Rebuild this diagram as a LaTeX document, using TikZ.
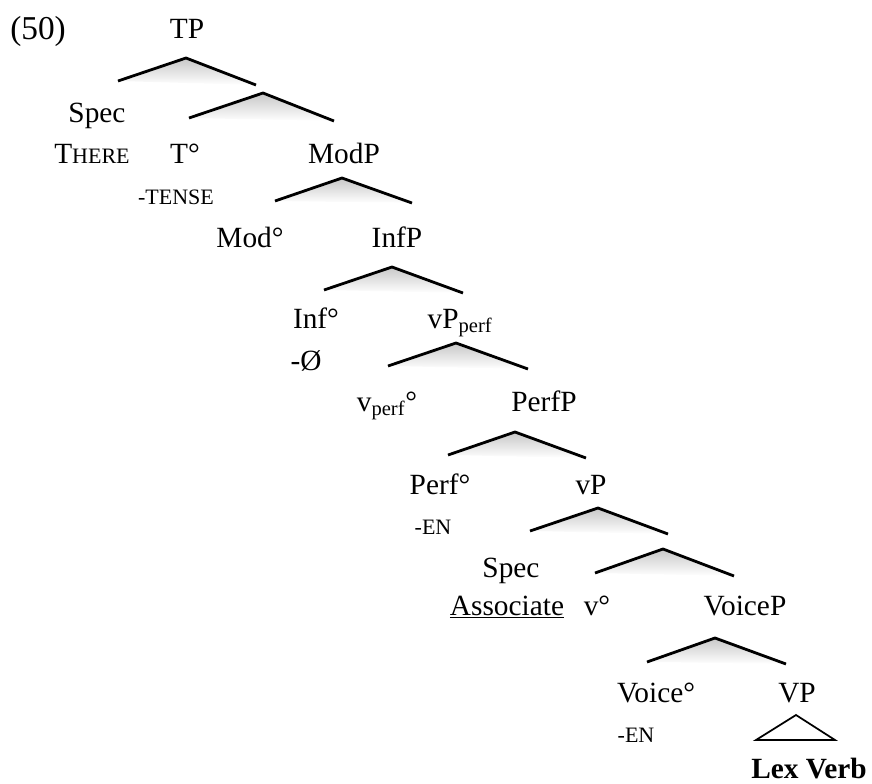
\documentclass[tikz,border=0pt]{standalone}
\usepackage{fontspec}
\setmainfont{Liberation Serif}

\newcommand{\smc}[1]{{\fontsize{16.5}{19}\selectfont #1}}

\begin{document}
\begin{tikzpicture}[
  x=0.75pt, y=-0.75pt,
  lbl/.style={anchor=base, inner sep=0pt, font=\fontsize{22}{26}\selectfont},
  arm/.style={line width=2.1pt},
  undershade/.style={top color=black!22, bottom color=white, draw=none}
]
\useasboundingbox (0,0) rectangle (872,783);

% labels
\node[lbl, anchor=base west, font=\fontsize{25}{30}\selectfont] (ex) at (10,39) {(50)};
\node[lbl] (tp) at (187,38) {TP};
\node[lbl] (spec1) at (97,122) {Spec};
\node[lbl] (there) at (92,163) {T\smc{HERE}};
\node[lbl] (t) at (185,163) {T°};
\node[lbl] (tense) at (176,204) {\smc{-TENSE}};
\node[lbl] (modp) at (344,163) {ModP};
\node[lbl] (mod) at (250,247) {Mod°};
\node[lbl] (infp) at (397,247) {InfP};
\node[lbl] (inf) at (316,328) {Inf°};
\node[lbl] (vpperf) at (460,328) {vP\textsubscript{perf}};
\node[lbl] (null) at (306,370) {-Ø};
\node[lbl] (vperf) at (387,411) {v\textsubscript{perf}°};
\node[lbl] (perfp) at (544,411) {PerfP};
\node[lbl] (perf) at (440,494) {Perf°};
\node[lbl] (vp) at (591,494) {vP};
\node[lbl] (en1) at (433,534) {\smc{-EN}};
\node[lbl] (spec2) at (511,577) {Spec};
\node[lbl] (assoc) at (507,615) {\underline{Associate}};
\node[lbl] (v) at (597,615) {v°};
\node[lbl] (voicep) at (745,615) {VoiceP};
\node[lbl] (voice) at (656,702) {Voice°};
\node[lbl] (bigvp) at (797,702) {VP};
\node[lbl] (en2) at (636,742) {\smc{-EN}};
\node[lbl, font=\fontsize{22}{26}\selectfont\bfseries] (lex) at (809,778) {Lex Verb};

% branch points
\coordinate (tpA) at (186,58);   \coordinate (tpL) at (118,81);  \coordinate (tpR) at (256,85);
\coordinate (tbA) at (263,93);   \coordinate (tbL) at (189,118); \coordinate (tbR) at (334,121);
\coordinate (modA) at (342,178); \coordinate (modL) at (275,201); \coordinate (modR) at (412,203);
\coordinate (infA) at (392,267); \coordinate (infL) at (324,290); \coordinate (infR) at (463,293);
\coordinate (vpfA) at (456,343); \coordinate (vpfL) at (388,366); \coordinate (vpfR) at (528,369);
\coordinate (pfA) at (515,432);  \coordinate (pfL) at (448,455); \coordinate (pfR) at (586,458);
\coordinate (vpA) at (598,508);  \coordinate (vpL) at (530,531); \coordinate (vpR) at (668,534);
\coordinate (vbA) at (663,549);  \coordinate (vbL) at (595,573); \coordinate (vbR) at (734,576);
\coordinate (voA) at (715,638);  \coordinate (voL) at (647,662); \coordinate (voR) at (786,664);
\coordinate (triA) at (796,715); \coordinate (triL) at (756,740); \coordinate (triR) at (835,740);

% shadows under the branches
\shade[undershade] (tpA) -- (tpL) -- (tpR) -- cycle;
\shade[undershade] (tbA) -- (tbL) -- (tbR) -- cycle;
\shade[undershade] (modA) -- (modL) -- (modR) -- cycle;
\shade[undershade] (infA) -- (infL) -- (infR) -- cycle;
\shade[undershade] (vpfA) -- (vpfL) -- (vpfR) -- cycle;
\shade[undershade] (pfA) -- (pfL) -- (pfR) -- cycle;
\shade[undershade] (vpA) -- (vpL) -- (vpR) -- cycle;
\shade[undershade] (vbA) -- (vbL) -- (vbR) -- cycle;
\shade[undershade] (voA) -- (voL) -- (voR) -- cycle;

% branches
\draw[arm] (tpL) -- (tpA) -- (tpR);
\draw[arm] (tbL) -- (tbA) -- (tbR);
\draw[arm] (modL) -- (modA) -- (modR);
\draw[arm] (infL) -- (infA) -- (infR);
\draw[arm] (vpfL) -- (vpfA) -- (vpfR);
\draw[arm] (pfL) -- (pfA) -- (pfR);
\draw[arm] (vpL) -- (vpA) -- (vpR);
\draw[arm] (vbL) -- (vbA) -- (vbR);
\draw[arm] (voL) -- (voA) -- (voR);
\draw[line width=1.3pt] (triA) -- (triL) -- (triR) -- cycle;
\end{tikzpicture}
\end{document}
